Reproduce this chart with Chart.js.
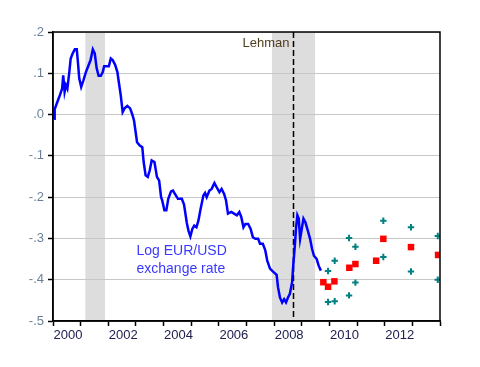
<!DOCTYPE html>
<html>
<head>
<meta charset="utf-8">
<script src="https://cdn.jsdelivr.net/npm/chart.js@4/dist/chart.umd.min.js"></script>
<style>
  html, body { margin: 0; padding: 0; background: #fff; }
  #wrap { width: 480px; height: 367px; position: relative; }
</style>
</head>
<body>
<div id="wrap"><canvas id="chart"></canvas></div>
<script>
// 対数EUR/USD（読み取り値）
const eurYears = [
  2000.04, 2000.06, 2000.16, 2000.25, 2000.33, 2000.37, 2000.42, 2000.47, 2000.52, 2000.59,
  2000.64, 2000.71, 2000.79, 2000.86, 2000.90, 2000.95, 2001.02, 2001.10, 2001.19, 2001.29,
  2001.36, 2001.44, 2001.51, 2001.58, 2001.65, 2001.73, 2001.80, 2001.85, 2002.02, 2002.09,
  2002.16, 2002.25, 2002.33, 2002.38, 2002.45, 2002.52, 2002.59, 2002.69, 2002.79, 2002.86,
  2002.93, 2002.98, 2003.04, 2003.14, 2003.23, 2003.28, 2003.35, 2003.43, 2003.50, 2003.57,
  2003.67, 2003.76, 2003.84, 2003.91, 2003.95, 2004.03, 2004.10, 2004.17, 2004.27, 2004.34,
  2004.41, 2004.52, 2004.66, 2004.74, 2004.84, 2004.90, 2004.97, 2005.04, 2005.11, 2005.19,
  2005.26, 2005.33, 2005.44, 2005.50, 2005.56, 2005.66, 2005.74, 2005.84, 2005.92, 2006.02,
  2006.10, 2006.19, 2006.26, 2006.33, 2006.45, 2006.55, 2006.65, 2006.74, 2006.81, 2006.89,
  2006.96, 2007.06, 2007.15, 2007.23, 2007.32, 2007.42, 2007.49, 2007.59, 2007.68, 2007.75,
  2007.85, 2007.95, 2008.09, 2008.14, 2008.21, 2008.29, 2008.36, 2008.43, 2008.50, 2008.57,
  2008.65, 2008.69, 2008.75, 2008.79, 2008.84, 2008.89, 2008.94, 2008.98, 2009.06, 2009.13,
  2009.20, 2009.30, 2009.37, 2009.44, 2009.54, 2009.61, 2009.69
];
const eurValues = [
  -0.010, 0.013, 0.031, 0.047, 0.063, 0.095, 0.055, 0.071, 0.063, 0.103,
  0.136, 0.148, 0.158, 0.158, 0.128, 0.087, 0.067, 0.083, 0.103, 0.120,
  0.132, 0.158, 0.148, 0.112, 0.094, 0.094, 0.103, 0.117, 0.117, 0.136,
  0.132, 0.120, 0.103, 0.079, 0.047, 0.006, 0.015, 0.021, 0.015, 0.002,
  -0.014, -0.038, -0.067, -0.075, -0.079, -0.115, -0.147, -0.151, -0.135, -0.111,
  -0.115, -0.151, -0.160, -0.200, -0.208, -0.232, -0.232, -0.204, -0.186, -0.184,
  -0.192, -0.204, -0.204, -0.218, -0.262, -0.281, -0.295, -0.277, -0.269, -0.273,
  -0.257, -0.232, -0.196, -0.190, -0.200, -0.184, -0.180, -0.166, -0.176, -0.188,
  -0.180, -0.192, -0.208, -0.240, -0.236, -0.240, -0.244, -0.236, -0.248, -0.273,
  -0.265, -0.265, -0.277, -0.297, -0.301, -0.301, -0.313, -0.313, -0.329, -0.354,
  -0.373, -0.380, -0.388, -0.418, -0.443, -0.455, -0.447, -0.455, -0.443, -0.434,
  -0.406, -0.366, -0.317, -0.277, -0.244, -0.252, -0.301, -0.285, -0.252, -0.261,
  -0.277, -0.301, -0.325, -0.342, -0.350, -0.366, -0.378
];

// 赤い四角
const redYears = [2009.78, 2009.95, 2010.18, 2010.72, 2010.94, 2011.69, 2011.95, 2012.95, 2013.93];
const redValues = [-0.406, -0.417, -0.404, -0.371, -0.362, -0.354, -0.301, -0.321, -0.340];

// 緑の十字（上下）
const plusYears = [2009.95, 2009.95, 2010.19, 2010.19, 2010.71, 2010.71, 2010.94, 2010.94,
  2011.95, 2011.95, 2012.95, 2012.95, 2013.92, 2013.92];
const plusValues = [-0.379, -0.454, -0.354, -0.452, -0.299, -0.438, -0.320, -0.407,
  -0.257, -0.345, -0.273, -0.380, -0.294, -0.400];

// 景気後退期
const recessionStart = [2001.17, 2007.92];
const recessionEnd = [2001.88, 2009.48];
const lehmanYear = 2008.70;

const yTicks = [0.2, 0.1, 0.0, -0.1, -0.2, -0.3, -0.4, -0.5];

function toPoints(xs, ys) {
  return xs.map((x, i) => ({ x: x, y: ys[i] }));
}

// 背景の帯と枠線、注記
const decorPlugin = {
  id: 'decor',
  beforeDraw(chart) {
    const { ctx, chartArea, scales } = chart;
    ctx.save();
    ctx.fillStyle = '#dddddd';
    for (let i = 0; i < recessionStart.length; i++) {
      const x0 = scales.x.getPixelForValue(recessionStart[i]);
      const x1 = scales.x.getPixelForValue(recessionEnd[i]);
      ctx.fillRect(x0, chartArea.top, x1 - x0, chartArea.bottom - chartArea.top);
    }
    ctx.restore();
  },
  beforeDatasetsDraw(chart) {
    const { ctx, chartArea, scales } = chart;
    const lx = Math.round(scales.x.getPixelForValue(lehmanYear)) + 0.5;
    ctx.save();
    ctx.strokeStyle = '#000';
    ctx.lineWidth = 1.5;
    ctx.setLineDash([6, 3]);
    ctx.beginPath();
    ctx.moveTo(lx, chartArea.top);
    ctx.lineTo(lx, chartArea.bottom);
    ctx.stroke();
    ctx.setLineDash([]);

    ctx.font = '13px "Liberation Sans", Arial, sans-serif';
    ctx.fillStyle = '#503c1e';
    ctx.textAlign = 'right';
    ctx.textBaseline = 'middle';
    ctx.fillText('Lehman', lx - 4, chartArea.top + 11);

    ctx.font = '14px "Liberation Sans", Arial, sans-serif';
    ctx.fillStyle = '#3a3aff';
    ctx.textAlign = 'left';
    const tx = scales.x.getPixelForValue(2003.02);
    ctx.fillText('Log EUR/USD', tx, scales.y.getPixelForValue(-0.331));
    ctx.fillText('exchange rate', tx, scales.y.getPixelForValue(-0.375));
    ctx.restore();
  },
  afterDraw(chart) {
    const { ctx, chartArea } = chart;
    ctx.save();
    ctx.strokeStyle = '#000';
    ctx.lineWidth = 1.5;
    ctx.strokeRect(chartArea.left, chartArea.top, chartArea.right - chartArea.left, chartArea.bottom - chartArea.top);
    ctx.restore();
  }
};

const ctx = document.getElementById('chart');
new Chart(ctx, {
  type: 'line',
  data: {
    datasets: [
      {
        label: 'Log EUR/USD',
        data: toPoints(eurYears, eurValues),
        borderColor: '#0000ff',
        borderWidth: 2.5,
        pointRadius: 0,
        tension: 0
      },
      {
        label: 'forecast',
        data: toPoints(redYears, redValues),
        showLine: false,
        pointStyle: 'rect',
        pointRadius: 4.6,
        pointBackgroundColor: '#ff0000',
        pointBorderColor: '#ff0000',
        pointBorderWidth: 0
      },
      {
        label: 'range',
        data: toPoints(plusYears, plusValues),
        showLine: false,
        pointStyle: 'cross',
        pointRadius: 3.2,
        pointBorderColor: '#008080',
        pointBorderWidth: 2
      }
    ]
  },
  options: {
    responsive: true,
    maintainAspectRatio: false,
    animation: false,
    events: [],
    layout: { padding: { left: 0, right: 40, top: 32, bottom: 0 } },
    plugins: { legend: { display: false }, tooltip: { enabled: false } },
    scales: {
      x: {
        type: 'linear',
        min: 2000,
        max: 2014,
        afterFit: (s) => { s.height = 46; },
        border: { display: true, color: '#000', width: 1.5 },
        grid: { drawOnChartArea: false, drawTicks: true, tickLength: 5, tickColor: '#000', tickWidth: 1.5 },
        ticks: {
          stepSize: 1,
          autoSkip: false,
          maxRotation: 0,
          labelOffset: 15,
          padding: 2,
          color: '#202050',
          font: { family: '"Liberation Sans", Arial, sans-serif', size: 13 },
          callback: (v) => (v % 2 === 0 && v < 2014 ? String(v) : '')
        }
      },
      y: {
        min: -0.5,
        max: 0.2,
        afterFit: (s) => { s.width = 53; },
        afterBuildTicks: (s) => { s.ticks = yTicks.map(v => ({ value: v })); },
        border: { display: true, color: '#000', width: 1.5 },
        grid: { color: '#c8c8c8', lineWidth: 1, drawTicks: true, tickLength: 5, tickColor: '#000', tickWidth: 1.5 },
        ticks: {
          padding: 4,
          color: '#6b7f99',
          font: { family: '"Liberation Sans", Arial, sans-serif', size: 13 },
          callback: (v) => {
            const n = Math.round(Math.abs(v) * 10);
            return (v < -0.001 ? '-' : '') + '.' + n;
          }
        }
      }
    }
  },
  plugins: [decorPlugin]
});
</script>
</body>
</html>
